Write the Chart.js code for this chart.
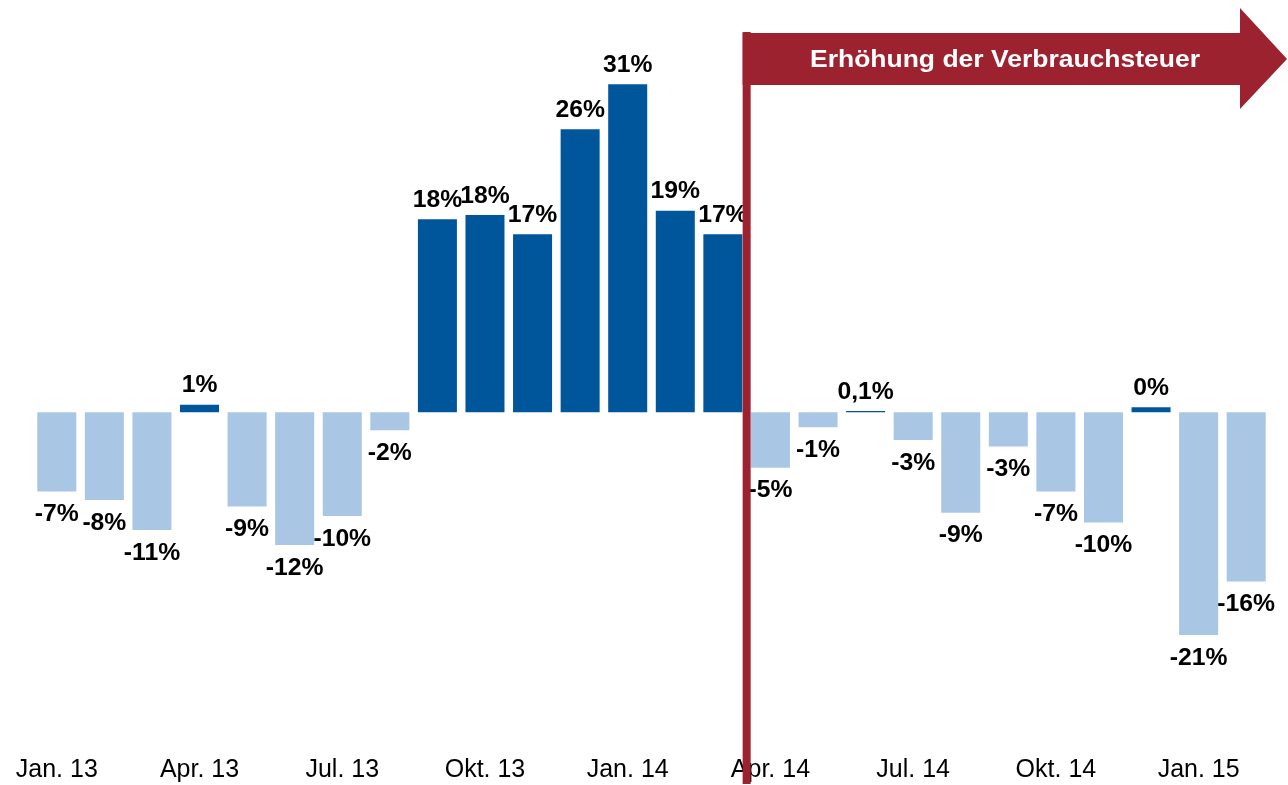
<!DOCTYPE html>
<html lang=de>

<head>
    <meta charset=UTF-8>
    <title>Verbrauchsteuer</title>
    <script src="https://cdn.jsdelivr.net/npm/chart.js"></script>
    <style>
        * {
            margin: 0;
            padding: 0;
        }

        body {
            background: #fff;
            font-family: "Liberation Sans", Arial, sans-serif;
        }

        #wrap {
            width: 1288px;
            height: 785px;
        }
    </style>
</head>

<body>
    <div id="wrap">
        <canvas id="myChart" width="1288" height="785"></canvas>
    </div>
    <script>
        const months = ['Jan. 13', 'Feb. 13', 'Mär. 13', 'Apr. 13', 'Mai 13', 'Jun. 13', 'Jul. 13', 'Aug. 13', 'Sep. 13', 'Okt. 13', 'Nov. 13', 'Dez. 13',
            'Jan. 14', 'Feb. 14', 'Mär. 14', 'Apr. 14', 'Mai 14', 'Jun. 14', 'Jul. 14', 'Aug. 14', 'Sep. 14', 'Okt. 14', 'Nov. 14', 'Dez. 14',
            'Jan. 15', 'Feb. 15']
        const change = [-7.4, -8.2, -11.0, 0.7, -8.8, -12.4, -9.7, -1.7, 18.0, 18.4, 16.6, 26.4,
            30.6, 18.8, 16.6, -5.2, -1.4, 0.1, -2.6, -9.4, -3.2, -7.4, -10.3, 0.45, -20.8, -15.8]
        const changeText = ['-7%', '-8%', '-11%', '1%', '-9%', '-12%', '-10%', '-2%', '18%', '18%', '17%', '26%',
            '31%', '19%', '17%', '-5%', '-1%', '0,1%', '-3%', '-9%', '-3%', '-7%', '-10%', '0%', '-21%', '-16%']
        const taxMonth = 'Apr. 14'
        const taxText = 'Erhöhung der Verbrauchsteuer'

        const darkBlue = '#00569b'
        const lightBlue = '#a9c6e5'
        const red = '#9c2230'

        // value labels above / below the bars
        const barLabels = {
            id: 'barLabels',
            afterDatasetsDraw(chart) {
                const ctx = chart.ctx
                const bars = chart.getDatasetMeta(0).data
                ctx.save()
                ctx.font = 'bold 24px "Liberation Sans", Arial'
                ctx.fillStyle = '#000'
                ctx.textAlign = 'center'
                ctx.textBaseline = 'middle'
                bars.forEach((bar, i) => {
                    const y = change[i] >= 0 ? bar.y - 19 : bar.y + 23
                    ctx.save()
                    ctx.translate(bar.x, y)
                    ctx.scale(1.03, 1)
                    ctx.fillText(changeText[i], 0, 0)
                    ctx.restore()
                })
                ctx.restore()
            }
        }

        // red line at the tax increase plus the arrow banner
        const taxArrow = {
            id: 'taxArrow',
            afterDraw(chart) {
                const ctx = chart.ctx
                const xs = chart.scales.x
                const i = months.indexOf(taxMonth)
                const x = (xs.getPixelForValue(i - 1) + xs.getPixelForValue(i)) / 2
                const left = x - 4
                const top = 33, bottom = 85
                const headX = 1240, tipX = 1287
                ctx.save()
                ctx.fillStyle = red
                ctx.fillRect(left, top - 1, 8, chart.height - top)
                ctx.beginPath()
                ctx.moveTo(left, top)
                ctx.lineTo(headX, top)
                ctx.lineTo(headX, 8)
                ctx.lineTo(tipX, (top + bottom) / 2)
                ctx.lineTo(headX, 109)
                ctx.lineTo(headX, bottom)
                ctx.lineTo(left, bottom)
                ctx.closePath()
                ctx.fill()

                ctx.font = 'bold 24px "Liberation Sans", Arial'
                ctx.fillStyle = '#fff'
                ctx.textAlign = 'center'
                ctx.textBaseline = 'middle'
                const w = ctx.measureText(taxText).width
                ctx.translate(1005, (top + bottom) / 2 + 1)
                ctx.scale(390 / w, 1)
                ctx.fillText(taxText, 0, 0)
                ctx.restore()
            }
        }

        const ctx = document.getElementById('myChart')
        new Chart(ctx, {
            type: 'bar',
            data: {
                labels: months,
                datasets: [{
                    data: change,
                    backgroundColor: change.map(v => v >= 0 ? darkBlue : lightBlue),
                    borderWidth: 0,
                    barPercentage: 0.82,
                    categoryPercentage: 1
                }]
            },
            options: {
                responsive: false,
                animation: false,
                layout: {
                    padding: { left: 33, right: 18, top: 5, bottom: 0 }
                },
                plugins: {
                    legend: { display: false },
                    tooltip: { enabled: false }
                },
                scales: {
                    x: {
                        grid: { display: false, drawTicks: false },
                        border: { display: false },
                        ticks: {
                            autoSkip: false,
                            maxRotation: 0,
                            padding: 0,
                            color: '#000',
                            font: { family: '"Liberation Sans", Arial', size: 25 },
                            callback: (v, i) => i % 3 === 0 ? months[i] : ''
                        }
                    },
                    y: {
                        min: -32,
                        max: 38,
                        ticks: { display: false, stepSize: 10 },
                        border: { display: false },
                        grid: {
                            drawTicks: false,
                            lineWidth: 2,
                            color: c => c.tick.value === 0 ? '#bfbfbf' : 'rgba(0,0,0,0)'
                        }
                    }
                }
            },
            plugins: [barLabels, taxArrow]
        })
    </script>
</body>

</html>
